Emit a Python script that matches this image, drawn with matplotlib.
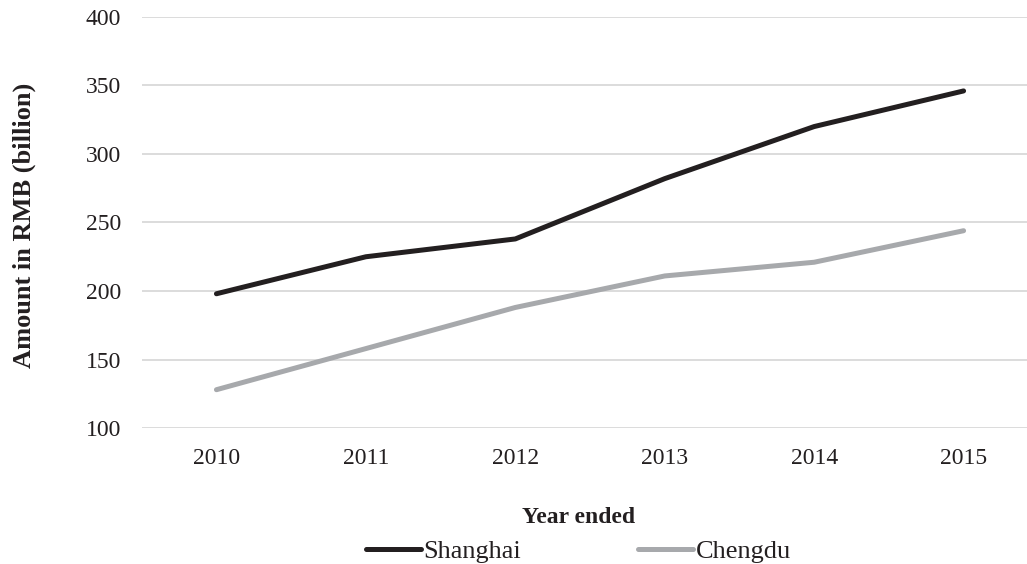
import matplotlib.pyplot as plt

# data
years = ["2010", "2011", "2012", "2013", "2014", "2015"]
shanghai = [198, 225, 238, 282, 320, 346]
chengdu = [128, 158, 188, 211, 221, 244]

plt.rcParams['font.family'] = ['Liberation Serif', 'DejaVu Serif']

fig = plt.figure(figsize=(10.27, 5.64), dpi=100)
ax = fig.add_axes([0.138, 0.241, 0.873, 0.729])

x = range(len(years))
ax.plot(x, shanghai, color="#231f20", lw=3.6, solid_capstyle="round", label="Shanghai")
ax.plot(x, chengdu, color="#a7a9ac", lw=3.6, solid_capstyle="round", label="Chengdu")

ax.set_xlim(-0.5, 5.5)
ax.set_ylim(100, 400)
ax.set_yticks(range(100, 401, 50))
ax.set_xticks(list(x))
ax.set_xticklabels(years)
ax.grid(axis="y", color="#d9d9d9", lw=1.3)
ax.set_axisbelow(True)
for s in ax.spines.values():
    s.set_visible(False)
ax.tick_params(length=0, labelsize=17, colors="#231f20")
ax.tick_params(axis="y", pad=15)
ax.tick_params(axis="x", pad=14)

fig.text(0.024, 0.601, "Amount in RMB (billion)", rotation=90, ha="center", va="center",
         fontsize=19, fontweight="bold", color="#231f20")
fig.text(0.563, 0.082, "Year ended", ha="center", va="center",
         fontsize=17, fontweight="bold", color="#231f20")

fig.legend(loc="center", bbox_to_anchor=(0.563, 0.023), ncol=2, frameon=False,
           fontsize=19, handlelength=2.1, handletextpad=0.1, columnspacing=4.4,
           labelcolor="#231f20")

fig.savefig("out.png", dpi=100)
